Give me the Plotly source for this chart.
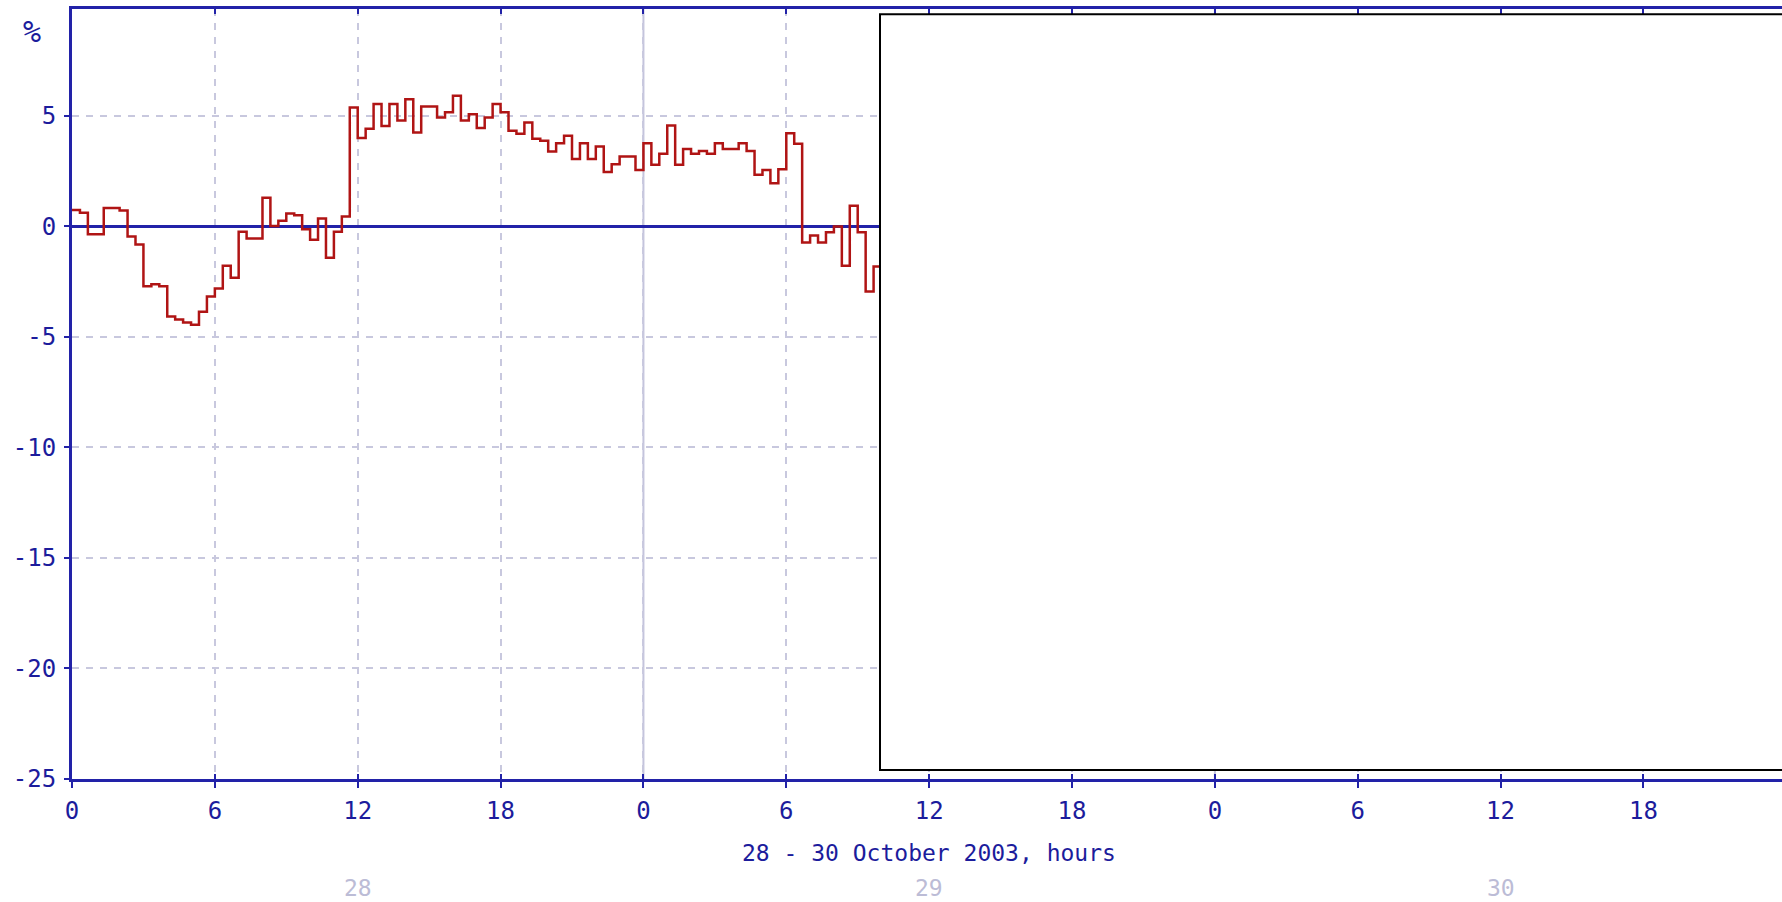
import numpy as np
import plotly.graph_objects as go

# 20-minute deviation values (%), starting 28 October 00:00
deviation = [
    0.74, 0.62, -0.35, -0.35, 0.84, 0.84, 0.72, -0.45, -0.81, -2.70,
    -2.61, -2.70, -4.07, -4.21, -4.34, -4.45, -3.86, -3.17, -2.81, -1.78,
    -2.32, -0.24, -0.54, -0.54, 1.30, 0.02, 0.26, 0.59, 0.51, -0.12,
    -0.60, 0.36, -1.42, -0.24, 0.45, 5.38, 4.00, 4.42, 5.54, 4.55,
    5.54, 4.80, 5.76, 4.25, 5.43, 5.43, 4.93, 5.17, 5.91, 4.80,
    5.08, 4.45, 4.93, 5.54, 5.17, 4.33, 4.19, 4.71, 3.97, 3.88,
    3.39, 3.77, 4.10, 3.05, 3.77, 3.05, 3.62, 2.46, 2.82, 3.17,
    3.17, 2.56, 3.77, 2.79, 3.29, 4.57, 2.79, 3.50, 3.29, 3.42,
    3.29, 3.77, 3.50, 3.50, 3.77, 3.42, 2.34, 2.56, 1.96, 2.59,
    4.22, 3.74, -0.72, -0.41, -0.72, -0.26, 0.00, -1.78, 0.94, -0.26,
    -2.94, -1.81,
]
steps_per_hour = 3

x_tick_hours = [0, 6, 12, 18, 24, 30, 36, 42, 48, 54, 60, 66]
x_tick_labels = ["0", "6", "12", "18", "0", "6", "12", "18", "0", "6", "12", "18"]
y_tick_values = [-25, -20, -15, -10, -5, 0, 5]
y_tick_labels = ["-25", "-20", "-15", "-10", "-5", "0", "5"]
day_hours = [12, 36, 60]
day_labels = ["28", "29", "30"]
day_starts = [24, 48]
x_title = "28 - 30 October 2003, hours"

AXIS = "#2222a8"
TEXT = "#1c1c9c"
GRID = "#c8c8de"
FONT = "DejaVu Sans Mono"

n = len(deviation)
hours = np.arange(n + 1) / steps_per_hour
values = list(deviation) + [deviation[-1]]

fig = go.Figure()
fig.add_trace(go.Scatter(
    x=hours, y=values, mode="lines", line=dict(color="#b01414", width=2.5, shape="hv"),
    showlegend=False, hoverinfo="skip",
))
# helper traces so the extra tick axes are rendered
for ax in ("x2", "x3"):
    fig.add_trace(go.Scatter(x=[0], y=[0], xaxis=ax, mode="markers",
                             marker=dict(opacity=0), showlegend=False, hoverinfo="skip"))

x_range = [0, 71.82]
common_x = dict(range=x_range, tickvals=x_tick_hours, fixedrange=True)

fig.update_layout(
    width=1782, height=902,
    margin=dict(l=72, r=0, t=9, b=123),
    paper_bgcolor="white", plot_bgcolor="white",
    font=dict(family=FONT, color=TEXT, size=23),
    xaxis=dict(
        **common_x, ticktext=x_tick_labels, showline=True, linecolor=AXIS, linewidth=3,
        ticks="outside", ticklen=6, tickwidth=1.5, tickcolor=AXIS,
        showgrid=True, gridcolor=GRID, gridwidth=1.5, griddash="7px,7px",
        zeroline=False, ticklabelstandoff=2,
        tickfont=dict(family=FONT, size=24, color=TEXT),
    ),
    xaxis2=dict(
        **common_x, overlaying="x", side="top", anchor="y", showticklabels=False,
        showline=True, linecolor=AXIS, linewidth=3,
        ticks="inside", ticklen=5, tickwidth=1.5, tickcolor=AXIS,
        showgrid=False, zeroline=False,
    ),
    xaxis3=dict(
        **common_x, overlaying="x", side="bottom", anchor="y", showticklabels=False,
        showline=False, ticks="inside", ticklen=5, tickwidth=1.5, tickcolor=AXIS,
        showgrid=False, zeroline=False,
    ),
    yaxis=dict(
        range=[-25, 9.84], tickvals=y_tick_values, ticktext=y_tick_labels,
        showline=True, linecolor=AXIS, linewidth=3,
        ticks="outside", ticklen=5, tickwidth=1.5, tickcolor=AXIS,
        showgrid=True, gridcolor=GRID, gridwidth=1.5, griddash="7px,7px",
        zeroline=True, zerolinecolor=AXIS, zerolinewidth=2.5,
        ticklabelstandoff=3, fixedrange=True,
        tickfont=dict(family=FONT, size=24, color=TEXT),
    ),
)

# solid separators at each midnight
for h in day_starts:
    fig.add_shape(type="line", xref="x", yref="paper", x0=h, x1=h, y0=0, y1=1,
                  line=dict(color="#c4c4dc", width=2), layer="below")

# axis caption, day labels and unit
fig.add_annotation(x=36, xref="x", y=-0.096, yref="paper", text=x_title, showarrow=False,
                   font=dict(family=FONT, size=23, color=TEXT), yanchor="middle")
for h, lab in zip(day_hours, day_labels):
    fig.add_annotation(x=h, xref="x", y=-0.142, yref="paper", text=lab, showarrow=False,
                       font=dict(family=FONT, size=23, color="#bcbcd6"), yanchor="middle")
fig.add_annotation(xref="paper", yref="paper",
                   x=(32 - 72) / (1782 - 72), y=(779 - 28) / 770,
                   text="%", showarrow=False, yshift=-4,
                   font=dict(family=FONT, size=30, color=TEXT),
                   xanchor="center", yanchor="middle")

# white panel covering the right part of the plot
fig.add_shape(type="rect", xref="paper", yref="paper",
              x0=(880 - 72) / (1782 - 72), x1=1.02,
              y0=(779 - 770) / 770, y1=(779 - 14.3) / 770,
              fillcolor="white", line=dict(color="black", width=2), layer="above")

fig.write_html("out.html", config={"displayModeBar": False})
